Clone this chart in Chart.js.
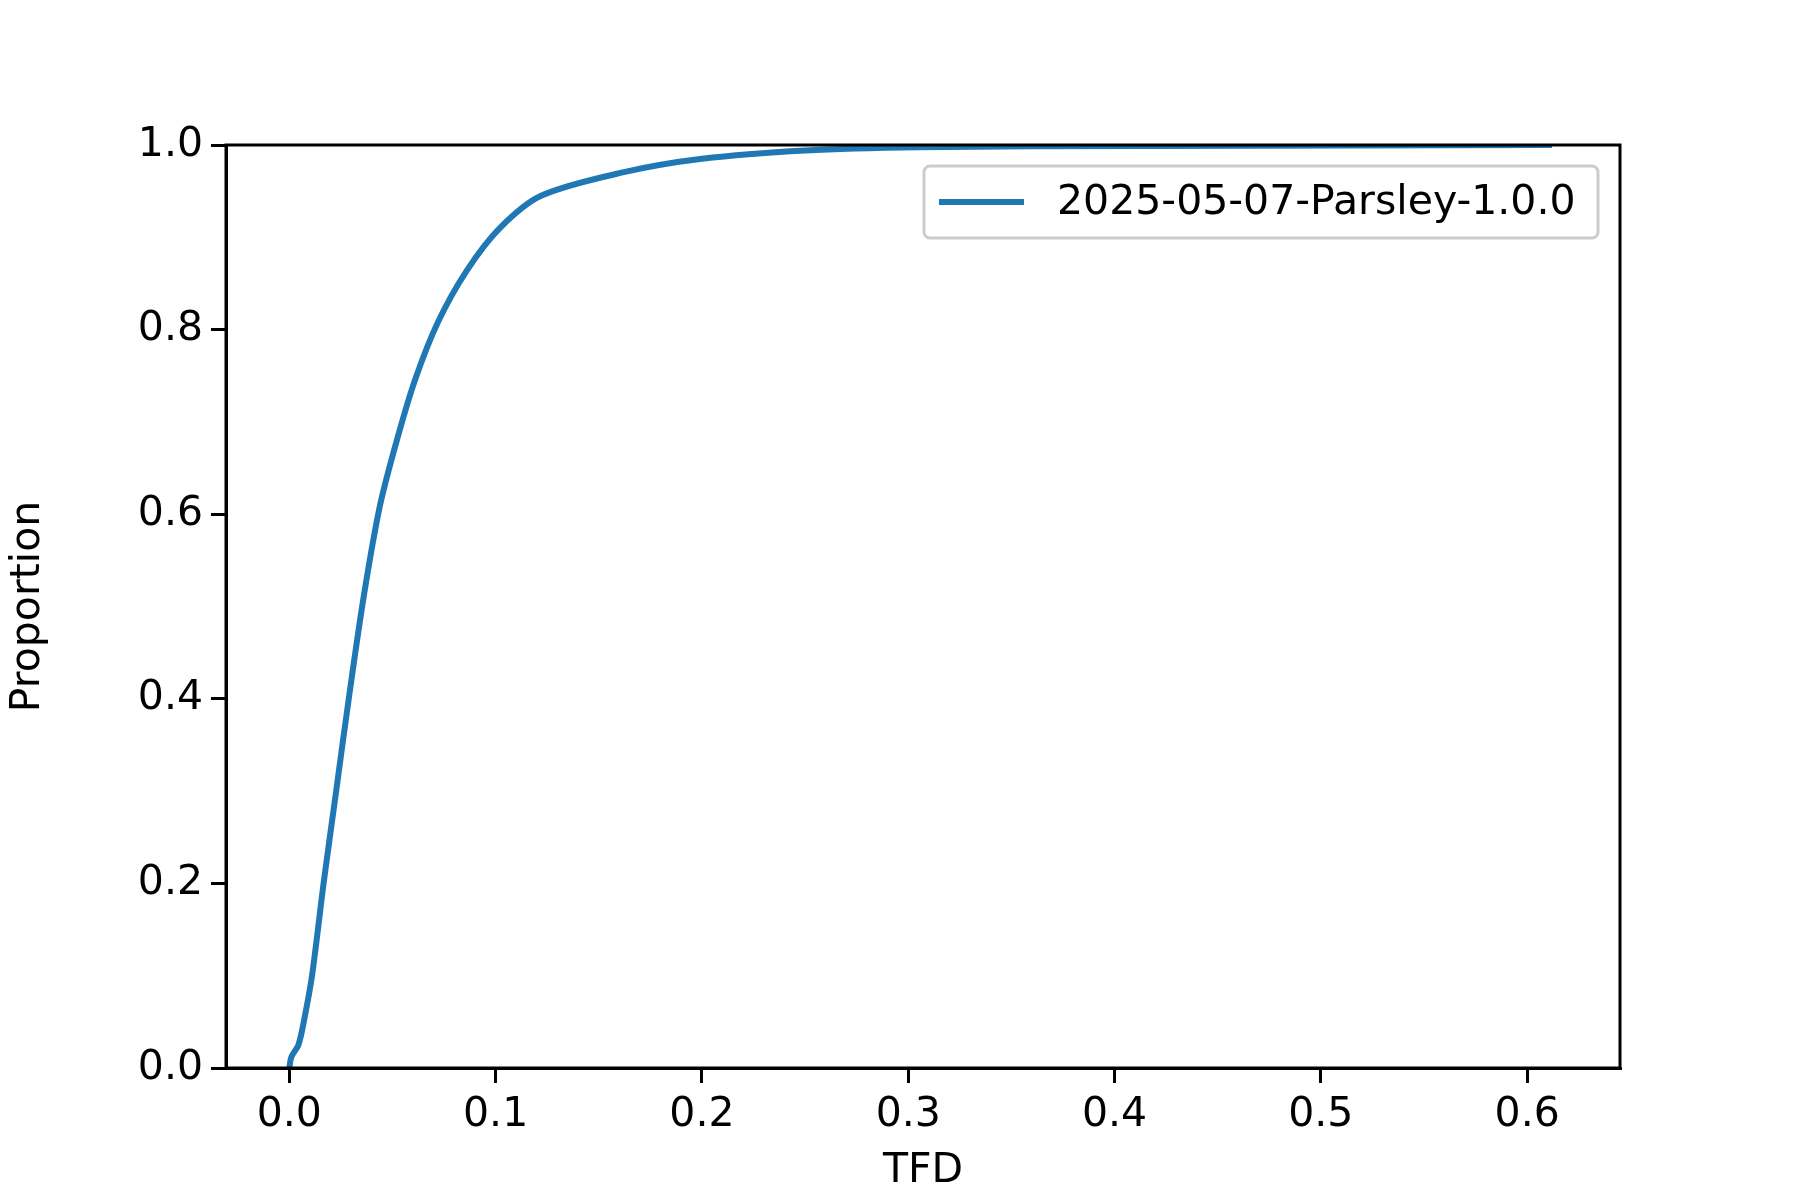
<!DOCTYPE html>
<html><head><meta charset="utf-8">
<script src="https://cdn.jsdelivr.net/npm/chart.js@4"></script>
<style>html,body{margin:0;padding:0;background:#fff}#w{width:1800px;height:1200px}</style>
</head><body><div id="w"><canvas id="c" width="1800" height="1200"></canvas></div>
<script>
const seriesLabel = '2025-05-07-Parsley-1.0.0';
const tfd = [0,0.001,0.0044,0.007,0.011,0.0166,0.0227,0.0288,0.036,0.044,0.0526,0.061,0.072,0.086,0.102,0.122,0.161,0.2,0.25,0.305,0.415,0.612];
const proportion = [0,0.012,0.025,0.05,0.1,0.2,0.3,0.4,0.51,0.61,0.684,0.746,0.808,0.864,0.91,0.945,0.97,0.985,0.994,0.9975,0.999,1.0];
const xTicks = [0,0.1,0.2,0.3,0.4,0.5,0.6];
const yTicks = [0,0.2,0.4,0.6,0.8,1.0];
const FONT = 'DejaVu Sans';
const color = '#1f77b4';

const framePlugin = {
  id:'frame',
  afterDraw(chart){
    const {ctx, chartArea:a} = chart;
    ctx.save();
    ctx.strokeStyle='black'; ctx.lineWidth=3;
    ctx.strokeRect(a.left, a.top, a.right-a.left, a.bottom-a.top);
    // legend
    const bx=924, by=166, bw=674, bh=72;
    ctx.fillStyle='rgba(255,255,255,0.8)';
    ctx.strokeStyle='#cccccc'; ctx.lineWidth=3;
    ctx.beginPath(); ctx.roundRect(bx,by,bw,bh,6); ctx.fill(); ctx.stroke();
    ctx.strokeStyle=color; ctx.lineWidth=6;
    ctx.beginPath(); ctx.moveTo(bx+15,by+bh/2); ctx.lineTo(bx+100,by+bh/2); ctx.stroke();
    ctx.fillStyle='black'; ctx.font='41px "'+FONT+'"'; ctx.textBaseline='middle';
    ctx.fillText(chart.data.datasets[0].label, bx+133, by+bh/2+1);
    ctx.restore();
  }
};

new Chart(document.getElementById('c'), {
  type:'scatter',
  data:{datasets:[{label:seriesLabel, data:tfd.map((x,i)=>({x, y:proportion[i]})), showLine:true,
    borderColor:color, borderWidth:6, pointRadius:0, tension:0.3, fill:false}]},
  options:{
    responsive:false, animation:false, devicePixelRatio:1,
    layout:{padding:{top:145,right:180,left:0,bottom:0}},
    plugins:{legend:{display:false}, tooltip:{enabled:false}},
    scales:{
      x:{type:'linear', min:-0.0307, max:0.645,
        afterBuildTicks(s){ s.ticks = xTicks.map(v=>({value:v})); },
        afterFit(s){ s.height = 132; },
        ticks:{color:'black', font:{family:FONT,size:41}, padding:8, callback:v=>v.toFixed(1), maxRotation:0},
        grid:{drawOnChartArea:false, drawTicks:true, tickLength:15, color:'black', lineWidth:3},
        border:{display:true,color:'black',width:3},
        title:{display:true, text:'TFD', color:'black', font:{family:FONT,size:41}, padding:{top:0}}
      },
      y:{type:'linear', min:0, max:1,
        afterBuildTicks(s){ s.ticks = yTicks.map(v=>({value:v})); },
        afterFit(s){ s.width = 226; },
        ticks:{color:'black', font:{family:FONT,size:41}, padding:8, callback:v=>v.toFixed(1)},
        grid:{drawOnChartArea:false, drawTicks:true, tickLength:15, color:'black', lineWidth:3},
        border:{display:true,color:'black',width:3},
        title:{display:true, text:'Proportion', color:'black', font:{family:FONT,size:41}, padding:{bottom:20}}
      }
    }
  },
  plugins:[framePlugin]
});
</script></body></html>
